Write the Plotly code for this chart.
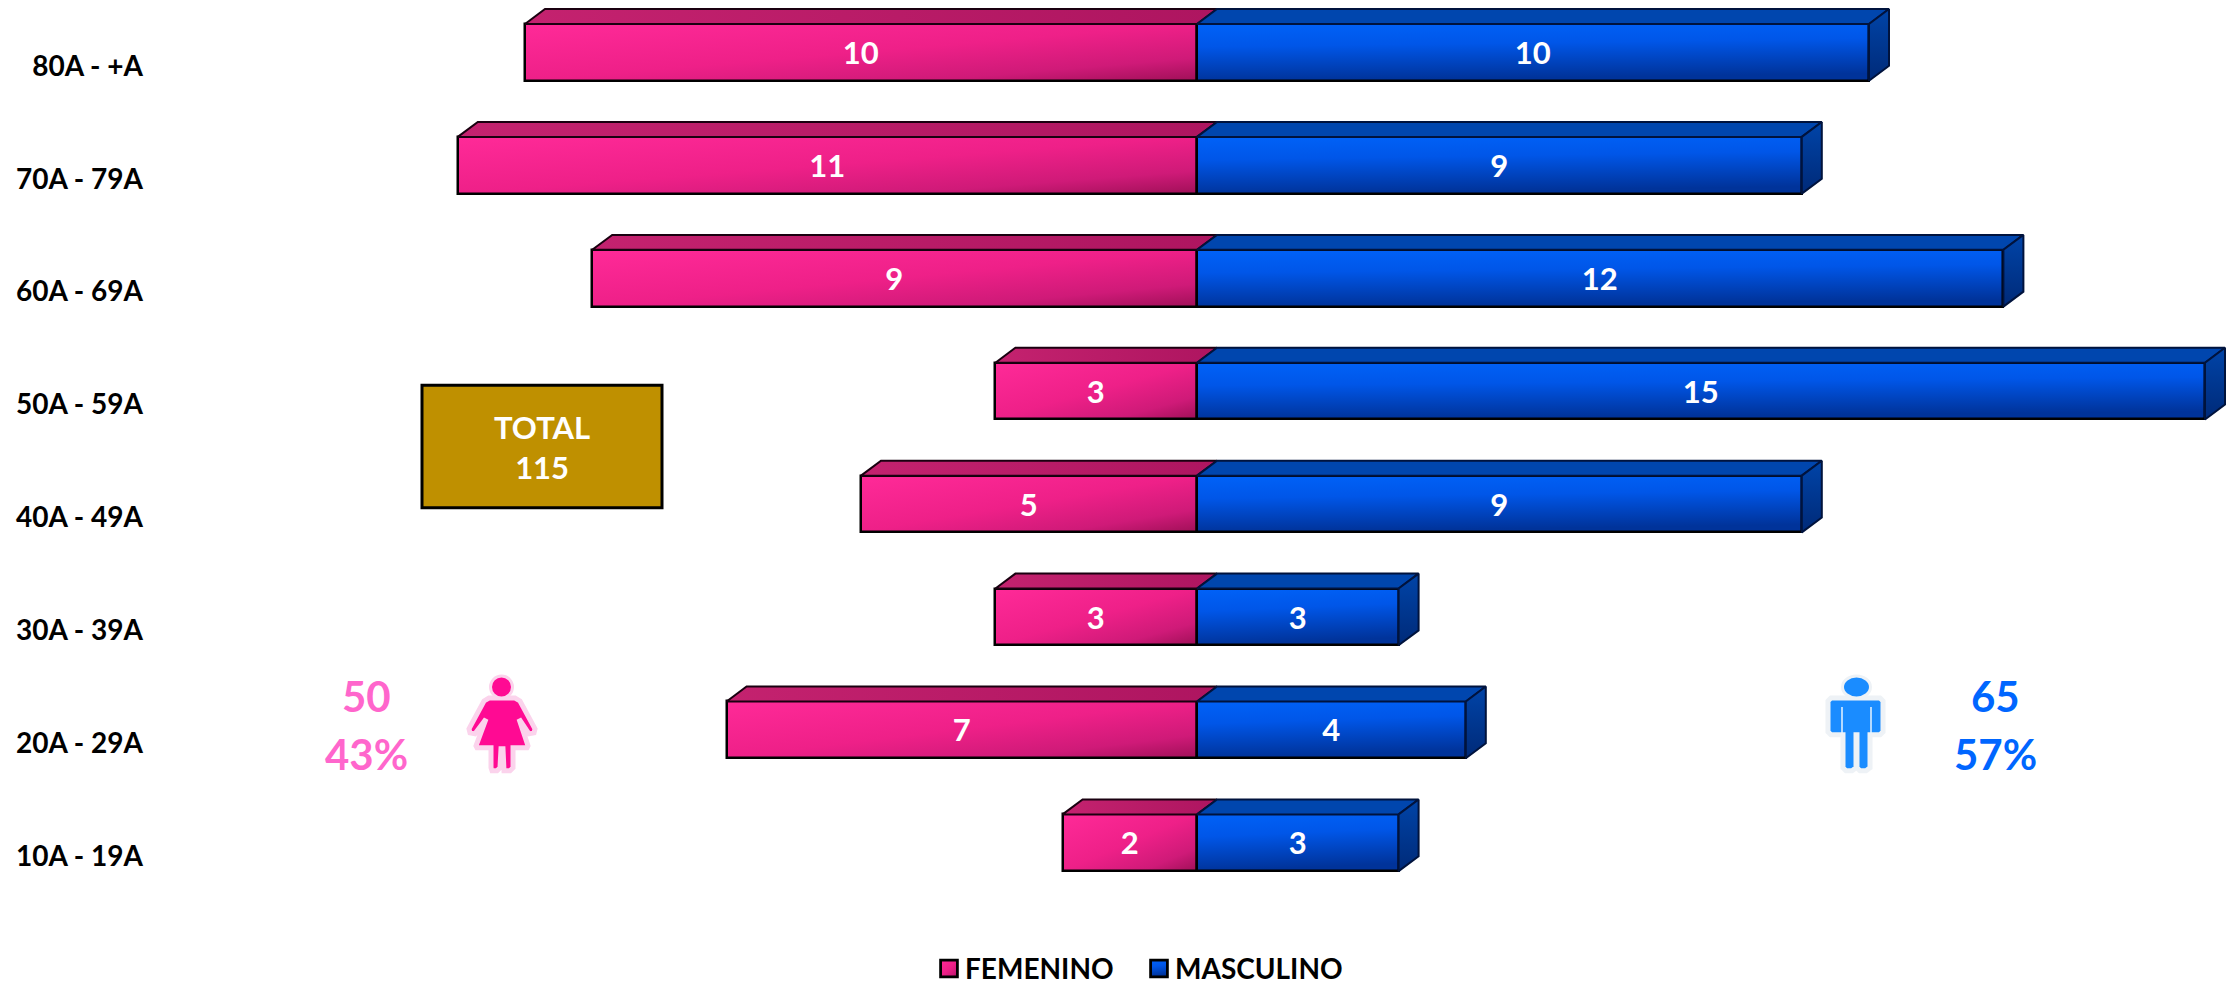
import plotly.graph_objects as go

ages = ["10A - 19A", "20A - 29A", "30A - 39A", "40A - 49A", "50A - 59A", "60A - 69A", "70A - 79A", "80A - +A"]
femenino = [2, 7, 3, 5, 3, 9, 11, 10]
masculino = [3, 4, 3, 9, 15, 12, 9, 10]
total = 115
total_f, pct_f = 50, "43%"
total_m, pct_m = 65, "57%"

W, H = 2234, 994
ML, MB = 144, 64
PW, PH = W - ML, H - MB
UNIT = 67.2      # px per data unit
CX = 1197        # px of zero
ROW = 113.4      # px per category
Y0 = 846.4       # px of first bar centre
BAR_H = 57
DX, DY = 20 / UNIT, 15 / ROW
HB = BAR_H / ROW / 2
LABEL_SHIFT = 13.5 / ROW
FONT = "Lato, Calibri, sans-serif"

px = lambda v: (v - ML) / PW
py = lambda v: (PH - v) / PH

fig = go.Figure()
idx = list(range(len(ages)))

# depth faces of the 3D bars
for i, f, m in zip(idx, femenino, masculino):
    t, tt = i + HB, i + HB + DY
    b = i - HB
    fig.add_trace(go.Scatter(x=[-f, 0, DX, -f + DX, -f], y=[t, t, tt, tt, t], mode="lines", fill="toself",
                             line=dict(color="#1a0010", width=2), showlegend=False, hoverinfo="skip",
                             fillgradient=dict(type="horizontal", colorscale=[[0, "#C4226F"], [1, "#AE1560"]])))
    fig.add_trace(go.Scatter(x=[0, m, m + DX, DX, 0], y=[t, t, tt, tt, t], mode="lines", fill="toself",
                             line=dict(color="#00133d", width=2), showlegend=False, hoverinfo="skip",
                             fillcolor="#0046AE"))
    fig.add_trace(go.Scatter(x=[m, m + DX, m + DX, m, m], y=[t, tt, b + DY, b, t], mode="lines", fill="toself",
                             line=dict(color="#00133d", width=2), showlegend=False, hoverinfo="skip",
                             fillgradient=dict(type="vertical", colorscale=[[0, "#002A78"], [1, "#0044A8"]])))

fig.add_trace(go.Bar(name="FEMENINO", y=idx, x=[-v for v in femenino], orientation="h", width=BAR_H / ROW,
                     marker=dict(color="#F0208A", line=dict(color="#000000", width=2.5)),
                     text=[str(v) for v in femenino], textposition="inside", insidetextanchor="middle",
                     textangle=0, constraintext="none",
                     textfont=dict(color="white", size=31, family=FONT, weight="bold")))
fig.add_trace(go.Bar(name="MASCULINO", y=idx, x=masculino, orientation="h", width=BAR_H / ROW,
                     marker=dict(color="#0058E8", line=dict(color="#000000", width=2.5)),
                     text=[str(v) for v in masculino], textposition="inside", insidetextanchor="middle",
                     textangle=0, constraintext="none",
                     textfont=dict(color="white", size=31, family=FONT, weight="bold")))

shapes = []
# TOTAL box
shapes.append(dict(type="rect", xref="paper", yref="paper", x0=px(422), x1=px(662), y0=py(510), y1=py(387),
                   fillcolor="#BF9000", line=dict(color="#000000", width=3)))


def poly(points, fill, line=None, lw=0, close=True):
    d = "M" + " L".join(f"{px(a):.5f},{py(b):.5f}" for a, b in points) + (" Z" if close else "")
    shapes.append(dict(type="path", xref="paper", yref="paper", path=d, fillcolor=fill,
                       line=dict(color=line or "rgba(0,0,0,0)", width=lw)))


def ellipse(cx, cy, rx, ry, fill, line, lw):
    shapes.append(dict(type="circle", xref="paper", yref="paper", x0=px(cx - rx), x1=px(cx + rx),
                       y0=py(cy + ry), y1=py(cy - ry), fillcolor=fill, line=dict(color=line, width=lw)))


# woman pictogram
woman = [(489, 701), (515, 701), (520, 704), (535, 732), (534, 736), (529, 737), (519, 722), (528, 749),
         (527, 751), (513, 751), (513, 771), (510, 774), (504, 774), (503, 752), (501, 752), (500, 771),
         (497, 774), (492, 774), (491, 771), (491, 751), (477, 751), (476, 749), (486, 722), (475, 737),
         (470, 736), (469, 732), (484, 704)]
poly(woman, "#FF0A93", "#FBD3EC", 5)
ellipse(501.5, 690, 11, 11, "#FF0A93", "#FBD3EC", 3)

# man pictogram
man = [(1831, 701), (1880, 701), (1883, 704), (1883, 735), (1880, 738), (1870, 738), (1870, 771), (1866, 774),
       (1860, 774), (1857, 771), (1857, 738), (1856, 738), (1856, 771), (1852, 774), (1846, 774), (1843, 771),
       (1843, 738), (1831, 738), (1828, 735), (1828, 704)]
poly(man, "#1A8CFF", "#EEF2F6", 5)
ellipse(1856.5, 690, 14, 11, "#1A8CFF", "#EEF2F6", 3)
for xp in (1842, 1871):
    shapes.append(dict(type="line", xref="paper", yref="paper", x0=px(xp), x1=px(xp), y0=py(710), y1=py(737),
                       line=dict(color="#E8F4FF", width=1.5)))


def label(text, x, y, color, size):
    return dict(text=text, x=px(x), y=py(y), xref="paper", yref="paper", showarrow=False,
                xanchor="center", yanchor="middle", align="center",
                font=dict(color=color, size=size, family=FONT, weight="bold"))


annotations = [
    label(f"TOTAL<br>{total}", 542, 449, "white", 31),
    label(str(total_f), 366, 699, "#FF66CC", 42),
    label(pct_f, 366, 757, "#FF66CC", 42),
    label(str(total_m), 1995, 699, "#0066FF", 42),
    label(pct_m, 1995, 757, "#0066FF", 42),
]

fig.update_layout(
    width=W, height=H, margin=dict(l=ML, r=0, t=0, b=MB, pad=0),
    barmode="relative", bargap=0, plot_bgcolor="white", paper_bgcolor="white",
    shapes=shapes, annotations=annotations, showlegend=True,
    legend=dict(orientation="h", x=px(925), y=py(973), xanchor="left", yanchor="middle",
                font=dict(size=28, family=FONT, color="black", weight="bold"),
                traceorder="normal", itemsizing="constant", entrywidth=165, entrywidthmode="pixels", itemwidth=30),
    xaxis=dict(range=[(ML - CX) / UNIT, (W - CX) / UNIT], visible=False, fixedrange=True),
    yaxis=dict(range=[(Y0 - PH) / ROW, Y0 / ROW], tickmode="array",
               tickvals=[i - LABEL_SHIFT for i in idx], ticktext=ages,
               showgrid=False, zeroline=False, showline=False, ticks="",
               tickfont=dict(size=28, family=FONT, color="black", weight="bold"), fixedrange=True),
)

post = r"""
document.body.style.margin = '0';
document.body.style.overflow = 'hidden';
var gd = document.getElementById('{plot_id}');
function mk(id, x2, y2, stops) {
  if (document.getElementById(id)) return;
  var ns = 'http://www.w3.org/2000/svg';
  var defs = document.querySelector('.main-svg defs');
  var g = document.createElementNS(ns, 'linearGradient');
  g.id = id; g.setAttribute('x1', 0); g.setAttribute('y1', 0); g.setAttribute('x2', x2); g.setAttribute('y2', y2);
  stops.forEach(function (s) {
    var e = document.createElementNS(ns, 'stop');
    e.setAttribute('offset', s[0]); e.setAttribute('stop-color', s[1]); g.appendChild(e);
  });
  defs.appendChild(g);
}
function apply() {
  mk('gradF', 1, 1, [[0, '#FF2A98'], [0.5, '#EE2088'], [0.8, '#CF1A78'], [1, '#A01058']]);
  mk('gradM', 0.15, 1, [[0, '#0062F8'], [0.4, '#0056E8'], [1, '#00339A']]);
  var tr = document.querySelectorAll('.barlayer .trace');
  tr.forEach(function (t, k) {
    t.querySelectorAll('.point path').forEach(function (p) {
      p.style.fill = 'url(#' + (k === 0 ? 'gradF' : 'gradM') + ')';
    });
  });
  document.querySelectorAll('.legend .traces').forEach(function (t, k) {
    var p = t.querySelector('.legendbar path, .legendundefined path, .legendpoints path');
    if (p) {
      p.style.fill = 'url(#' + (k === 0 ? 'gradF' : 'gradM') + ')';
      var tf = p.getAttribute('transform') || '';
      if (tf.indexOf('scale') < 0) p.setAttribute('transform', tf + ' translate(4,0) scale(1.4)');
    }
  });
}
apply();
gd.on('plotly_afterplot', apply);
"""
fig.write_html("out.html", post_script=post, config={"displayModeBar": False})
